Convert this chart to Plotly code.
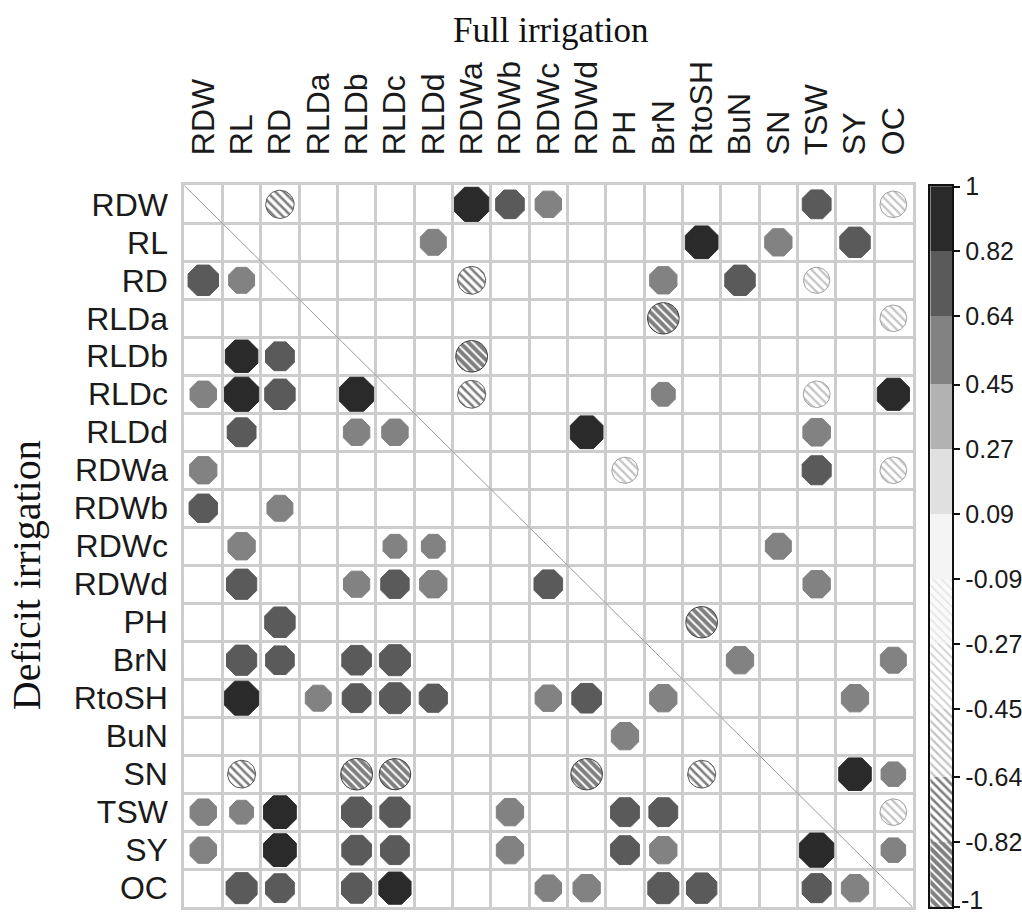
import numpy as np
import plotly.graph_objects as go

# Trait names (rows and columns share the same order)
variables = ["RDW", "RL", "RD", "RLDa", "RLDb", "RLDc", "RLDd", "RDWa", "RDWb", "RDWc",
             "RDWd", "PH", "BrN", "RtoSH", "BuN", "SN", "TSW", "SY", "OC"]

# Significant correlations under full irrigation (upper triangle): (row, column, r)
full_irrigation = [
    ("RDW", "RD", -0.68), ("RDW", "RDWa", 0.97), ("RDW", "RDWb", 0.68), ("RDW", "RDWc", 0.58),
    ("RDW", "TSW", 0.69), ("RDW", "OC", -0.60),
    ("RL", "RLDd", 0.56), ("RL", "RtoSH", 0.89), ("RL", "SN", 0.62), ("RL", "SY", 0.77),
    ("RD", "RDWa", -0.66), ("RD", "BrN", 0.62), ("RD", "BuN", 0.77), ("RD", "TSW", -0.58),
    ("RLDa", "BrN", -0.84), ("RLDa", "OC", -0.60),
    ("RLDb", "RDWa", -0.85),
    ("RLDc", "RDWa", -0.66), ("RLDc", "BrN", 0.47), ("RLDc", "TSW", -0.60), ("RLDc", "OC", 0.86),
    ("RLDd", "RDWd", 0.89), ("RLDd", "TSW", 0.63),
    ("RDWa", "PH", -0.58), ("RDWa", "TSW", 0.70), ("RDWa", "OC", -0.60),
    ("RDWc", "SN", 0.56),
    ("RDWd", "TSW", 0.62),
    ("PH", "RtoSH", -0.84),
    ("BrN", "BuN", 0.62), ("BrN", "OC", 0.56),
    ("RtoSH", "SY", 0.62),
    ("SN", "SY", 0.88), ("SN", "OC", 0.50),
    ("TSW", "OC", -0.60),
    ("SY", "OC", 0.50),
]

# Significant correlations under deficit irrigation (lower triangle): (row, column, r)
deficit_irrigation = [
    ("RD", "RDW", 0.77), ("RD", "RL", 0.56),
    ("RLDb", "RL", 0.88), ("RLDb", "RD", 0.69),
    ("RLDc", "RDW", 0.58), ("RLDc", "RL", 0.97), ("RLDc", "RD", 0.77), ("RLDc", "RLDb", 0.96),
    ("RLDd", "RL", 0.69), ("RLDd", "RLDb", 0.58), ("RLDd", "RLDc", 0.58),
    ("RDWa", "RDW", 0.62),
    ("RDWb", "RDW", 0.67), ("RDWb", "RD", 0.56),
    ("RDWc", "RL", 0.62), ("RDWc", "RLDc", 0.47), ("RDWc", "RLDd", 0.47),
    ("RDWd", "RL", 0.76), ("RDWd", "RLDb", 0.57), ("RDWd", "RLDc", 0.67), ("RDWd", "RLDd", 0.62),
    ("RDWd", "RDWc", 0.68),
    ("PH", "RD", 0.77),
    ("BrN", "RL", 0.76), ("BrN", "RD", 0.68), ("BrN", "RLDb", 0.73), ("BrN", "RLDc", 0.80),
    ("RtoSH", "RL", 0.96), ("RtoSH", "RLDa", 0.56), ("RtoSH", "RLDb", 0.69), ("RtoSH", "RLDc", 0.79),
    ("RtoSH", "RLDd", 0.66), ("RtoSH", "RDWc", 0.58), ("RtoSH", "RDWd", 0.73), ("RtoSH", "BrN", 0.62),
    ("BuN", "PH", 0.62),
    ("SN", "RL", -0.66), ("SN", "RLDb", -0.85), ("SN", "RLDc", -0.83), ("SN", "RDWd", -0.84),
    ("SN", "RtoSH", -0.66),
    ("TSW", "RDW", 0.58), ("TSW", "RL", 0.47), ("TSW", "RD", 0.89), ("TSW", "RLDb", 0.76),
    ("TSW", "RLDc", 0.76), ("TSW", "RDWb", 0.62), ("TSW", "PH", 0.69), ("TSW", "BrN", 0.69),
    ("SY", "RDW", 0.58), ("SY", "RD", 0.89), ("SY", "RLDb", 0.73), ("SY", "RLDc", 0.69),
    ("SY", "RDWb", 0.62), ("SY", "PH", 0.69), ("SY", "BrN", 0.62), ("SY", "TSW", 0.97),
    ("OC", "RL", 0.80), ("OC", "RD", 0.69), ("OC", "RLDb", 0.76), ("OC", "RLDc", 0.86),
    ("OC", "RDWc", 0.58), ("OC", "RDWd", 0.62), ("OC", "BrN", 0.80), ("OC", "RtoSH", 0.77),
    ("OC", "TSW", 0.70), ("OC", "SY", 0.62),
]

# Colour-key breaks and their labels
bin_edges = [-1, -0.82, -0.64, -0.45, -0.27, -0.09, 0.09, 0.27, 0.45, 0.64, 0.82, 1]
bin_labels = ["-1", "-0.82", "-0.64", "-0.45", "-0.27", "-0.09",
              "0.09", "0.27", "0.45", "0.64", "0.82", "1"]

# Fill style of each colour-key interval (low to high)
bin_styles = [
    dict(fg="#000000", bg="#ffffff", solidity=0.68, size=6, edge="#3a3a3a"),  # -1 .. -0.82
    dict(fg="#000000", bg="#ffffff", solidity=0.42, size=6, edge="#5a5a5a"),  # -0.82 .. -0.64
    dict(fg="#8a8a8a", bg="#ffffff", solidity=0.38, size=6, edge="#a0a0a0"),  # -0.64 .. -0.45
    dict(fg="#a8a8a8", bg="#ffffff", solidity=0.33, size=6, edge="#b8b8b8"),  # -0.45 .. -0.27
    dict(fg="#d0d0d0", bg="#fafafa", solidity=0.30, size=6, edge="#d0d0d0"),  # -0.27 .. -0.09
    dict(color="#f4f4f4"),                                                     # -0.09 .. 0.09
    dict(color="#e0e0e0"),                                                     # 0.09 .. 0.27
    dict(color="#b2b2b2"),                                                     # 0.27 .. 0.45
    dict(color="#828282"),                                                     # 0.45 .. 0.64
    dict(color="#5a5a5a"),                                                     # 0.64 .. 0.82
    dict(color="#2a2a2a"),                                                     # 0.82 .. 1
]

W, H = 1022, 917
GRID_L, GRID_R, GRID_T, GRID_B = 185, 917, 174, 907
n = len(variables)
cell_px = (GRID_R - GRID_L) / n
idx = {v: i for i, v in enumerate(variables)}


def bin_of(r):
    for k in range(len(bin_edges) - 1):
        if r <= bin_edges[k + 1]:
            return k
    return len(bin_edges) - 2


fig = go.Figure()

pairs = full_irrigation + deficit_irrigation

# Positive correlations: filled octagon-like circles, area proportional to |r|
solid = {}
for row, col, r in pairs:
    if r > 0:
        solid.setdefault(bin_of(r), []).append((idx[col], idx[row], r))
for k, pts in sorted(solid.items()):
    colr = bin_styles[k]["color"]
    fig.add_trace(go.Scatter(
        x=[p[0] for p in pts], y=[p[1] for p in pts], mode="markers",
        marker=dict(symbol="octagon", color=colr, opacity=1,
                    size=[0.9 * np.sqrt(abs(p[2])) * cell_px / 0.924 for p in pts],
                    line=dict(color=colr, width=1)),
        hoverinfo="skip", showlegend=False, xaxis="x", yaxis="y"))

# Negative correlations: hatched circles drawn as filled outlines
theta = np.linspace(0, 2 * np.pi, 49)
hatched = {}
for row, col, r in pairs:
    if r < 0:
        hatched.setdefault(bin_of(r), []).append((idx[col], idx[row], r))
for k, pts in sorted(hatched.items()):
    st = bin_styles[k]
    xs, ys = [], []
    for cx, cy, r in pts:
        rad = 0.45 * np.sqrt(abs(r))
        xs += list(cx + rad * np.cos(theta)) + [None]
        ys += list(cy + rad * np.sin(theta)) + [None]
    fig.add_trace(go.Scatter(
        x=xs, y=ys, mode="lines", fill="toself",
        fillcolor=st["bg"],
        fillpattern=dict(shape="\\", fgcolor=st["fg"], bgcolor=st["bg"],
                         solidity=st["solidity"], size=st["size"]),
        line=dict(color=st["edge"], width=1),
        hoverinfo="skip", showlegend=False, xaxis="x", yaxis="y"))

# Colour key as a stacked column of intervals
for k in range(len(bin_edges) - 1):
    lo, hi = bin_edges[k], bin_edges[k + 1]
    st = bin_styles[k]
    if "color" in st:
        marker = dict(color=st["color"], line=dict(width=0))
    else:
        marker = dict(color=st["bg"], line=dict(width=0),
                      pattern=dict(shape="\\", fgcolor=st["fg"], bgcolor=st["bg"],
                                   solidity=st["solidity"], size=st["size"]))
    fig.add_trace(go.Bar(x=[0.5], y=[hi - lo], base=[lo], width=1, marker=marker,
                         opacity=1, hoverinfo="skip", showlegend=False,
                         xaxis="x2", yaxis="y2"))

grid_col = "#cdcdcd"
label_font = dict(family="Liberation Sans, Arial, sans-serif", size=32, color="#1a1a1a")
key_font = dict(family="Liberation Sans, Arial, sans-serif", size=25, color="#1a1a1a")

# The lowest key label sits on the page edge, so it is placed as an annotation
key_ticktext = [""] + bin_labels[1:]

fig.update_layout(
    width=W, height=H,
    margin=dict(l=0, r=0, t=0, b=0),
    paper_bgcolor="white", plot_bgcolor="white",
    barmode="overlay", bargap=0,
    xaxis=dict(domain=[GRID_L / W, GRID_R / W], range=[-0.5, n - 0.5],
               tickmode="array", tickvals=list(range(n)), ticktext=variables,
               side="top", tickangle=-90, tickfont=label_font, ticks="",
               ticklabelstandoff=21,
               showgrid=False, zeroline=False,
               minor=dict(tickmode="linear", tick0=-0.5, dtick=1, showgrid=True,
                          gridcolor=grid_col, gridwidth=2.5, ticks=""),
               showline=True, mirror=True, linecolor=grid_col, linewidth=2.5,
               fixedrange=True),
    yaxis=dict(domain=[1 - GRID_B / H, 1 - GRID_T / H], range=[n - 0.5, -0.5],
               tickmode="array", tickvals=list(range(n)), ticktext=variables,
               tickfont=label_font, ticks="", ticklabelstandoff=7,
               showgrid=False, zeroline=False,
               minor=dict(tickmode="linear", tick0=-0.5, dtick=1, showgrid=True,
                          gridcolor=grid_col, gridwidth=2.5, ticks=""),
               showline=True, mirror=True, linecolor=grid_col, linewidth=2.5,
               fixedrange=True),
    xaxis2=dict(domain=[935 / W, 957 / W], range=[0, 1], anchor="y2",
                showticklabels=False, ticks="", showgrid=False, zeroline=False,
                showline=True, mirror=True, linecolor="#111111", linewidth=2),
    yaxis2=dict(domain=[1 - 907 / H, 1 - 175 / H], range=[-1.0005, 1.0005], anchor="x2",
                side="right", tickmode="array", tickvals=bin_edges, ticktext=key_ticktext,
                ticks="outside", ticklen=6, tickwidth=1.5, tickcolor="#111111",
                tickfont=key_font,
                showgrid=False, zeroline=False,
                showline=True, mirror=True, linecolor="#111111", linewidth=2),
    shapes=[dict(type="line", xref="x", yref="y", x0=-0.5, y0=-0.5, x1=n - 0.5, y1=n - 0.5,
                 line=dict(color="#9a9a9a", width=1), layer="above")],
    annotations=[
        dict(text="Full irrigation", xref="paper", yref="paper",
             x=553 / W, y=1 - 17 / H, showarrow=False, xanchor="center", yanchor="middle",
             font=dict(family="Liberation Serif, Times New Roman, serif", size=35,
                       color="#111111")),
        dict(text="Deficit irrigation", xref="paper", yref="paper",
             x=26 / W, y=1 - 570 / H, showarrow=False, textangle=-90,
             xanchor="center", yanchor="middle",
             font=dict(family="Liberation Serif, Times New Roman, serif", size=40,
                       color="#111111")),
        dict(text=bin_labels[0], xref="paper", yref="y2",
             x=964 / W, y=bin_edges[0], showarrow=False, xanchor="left", yanchor="bottom",
             yshift=-9, font=key_font),
    ],
)

fig.write_html("out.html")
